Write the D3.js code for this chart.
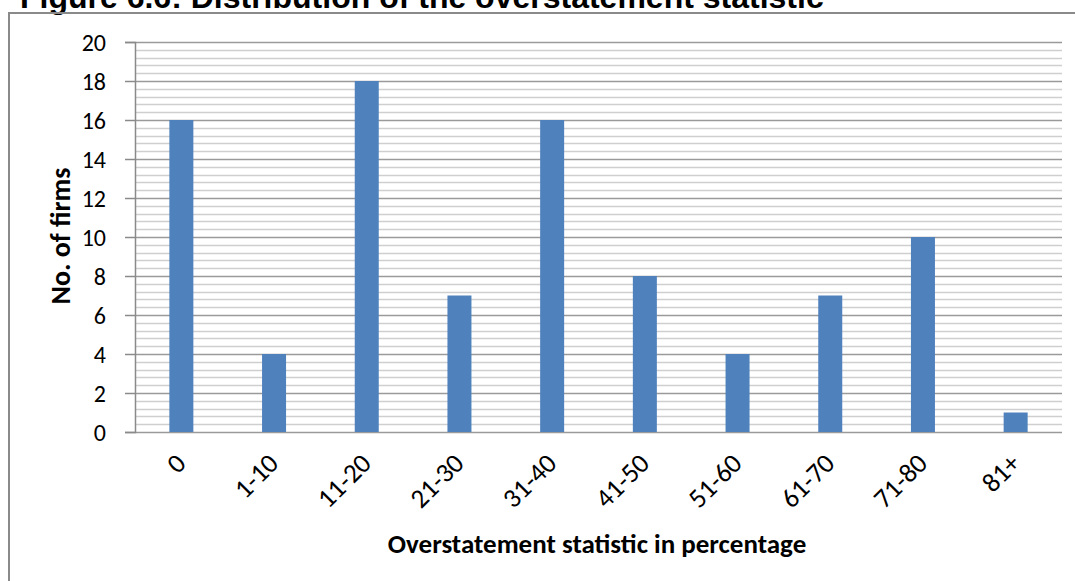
<!DOCTYPE html>
<html>
<head>
<meta charset="utf-8">
<script src="https://cdn.jsdelivr.net/npm/d3@7"></script>
<style>
  html, body { margin: 0; padding: 0; background: #fff; }
  svg { display: block; }
</style>
</head>
<body>
<svg id="chart" width="1075" height="581"></svg>
<script>
// Categories (overstatement ranges) and firm counts
const categories = ["0", "1-10", "11-20", "21-30", "31-40", "41-50", "51-60", "61-70", "71-80", "81+"];
const firmCounts = [16, 4, 18, 7, 16, 8, 4, 7, 10, 1];
const yTicks = [0, 2, 4, 6, 8, 10, 12, 14, 16, 18, 20];

const svg = d3.select("#chart");
const W = 1075, H = 581;
const plot = { left: 135, right: 1062, top: 42, bottom: 432 };
const bodyFont = "Carlito, Calibri, Lato, sans-serif";

// Title (sits against the top edge)
svg.append("text")
  .attr("x", 20).attr("y", 8)
  .attr("font-family", "Liberation Sans, Arial, sans-serif")
  .attr("font-weight", "bold")
  .attr("font-size", 32)
  .attr("fill", "#000")
  .text("Figure 6.6: Distribution of the overstatement statistic");

// Outer frame
svg.append("rect")
  .attr("x", 9).attr("y", 13)
  .attr("width", W + 20).attr("height", H + 20)
  .attr("fill", "none")
  .attr("stroke", "#8a8a8a")
  .attr("stroke-width", 2);

const x = d3.scaleBand().domain(categories).range([plot.left, plot.right]).paddingInner(0).paddingOuter(0);
const y = d3.scaleLinear().domain([0, 20]).range([plot.bottom, plot.top]);

// Minor gridlines
const minor = d3.range(0, 20.0001, 0.4).filter(v => Math.abs(v / 2 - Math.round(v / 2)) > 1e-6);
svg.append("g").selectAll("line").data(minor).join("line")
  .attr("x1", plot.left).attr("x2", plot.right)
  .attr("y1", d => Math.round(y(d)) + 0.5).attr("y2", d => Math.round(y(d)) + 0.5)
  .attr("stroke", "#cfcfcf").attr("stroke-width", 1.5);

// Major gridlines
svg.append("g").selectAll("line").data(yTicks).join("line")
  .attr("x1", plot.left).attr("x2", plot.right)
  .attr("y1", d => Math.round(y(d)) + 0.5).attr("y2", d => Math.round(y(d)) + 0.5)
  .attr("stroke", "#9a9a9a").attr("stroke-width", 1.5);

// Bars
const barW = 24;
svg.append("g").selectAll("rect").data(categories).join("rect")
  .attr("x", (d) => x(d) + x.bandwidth() / 2 - barW / 2)
  .attr("y", (d, i) => y(firmCounts[i]))
  .attr("width", barW)
  .attr("height", (d, i) => y(0) - y(firmCounts[i]))
  .attr("fill", "#4f81bd");

// Y axis
const yAxis = svg.append("g")
  .attr("transform", `translate(${plot.left},0)`)
  .call(d3.axisLeft(y).tickValues(yTicks).tickSize(10).tickPadding(19));
yAxis.attr("font-size", null).attr("font-family", null);
yAxis.select(".domain").attr("stroke", "#8a8a8a").attr("stroke-width", 1.5);
yAxis.selectAll(".tick line").attr("stroke", "#8a8a8a").attr("stroke-width", 1.5);
yAxis.selectAll(".tick text")
  .attr("font-family", bodyFont)
  .attr("font-size", 24)
  .attr("dy", "0.34em")
  .attr("fill", "#000");

// X axis labels
const xAxis = svg.append("g")
  .attr("transform", `translate(0,${plot.bottom})`)
  .call(d3.axisBottom(x).tickSize(0).tickPadding(0));
xAxis.attr("font-size", null).attr("font-family", null);
xAxis.select(".domain").remove();
xAxis.selectAll(".tick text")
  .attr("font-family", bodyFont)
  .attr("font-size", 27)
  .attr("fill", "#000")
  .attr("text-anchor", "end")
  .attr("dy", 0)
  .attr("transform", "translate(6,33) rotate(-45)");

// Axis titles
svg.append("text")
  .attr("x", 597).attr("y", 553)
  .attr("text-anchor", "middle")
  .attr("font-family", bodyFont)
  .attr("font-weight", "bold")
  .attr("font-size", 27)
  .text("Overstatement statistic in percentage");

svg.append("text")
  .attr("transform", "translate(70,236) rotate(-90)")
  .attr("text-anchor", "middle")
  .attr("font-family", bodyFont)
  .attr("font-weight", "bold")
  .attr("font-size", 28)
  .text("No. of firms");
</script>
</body>
</html>
